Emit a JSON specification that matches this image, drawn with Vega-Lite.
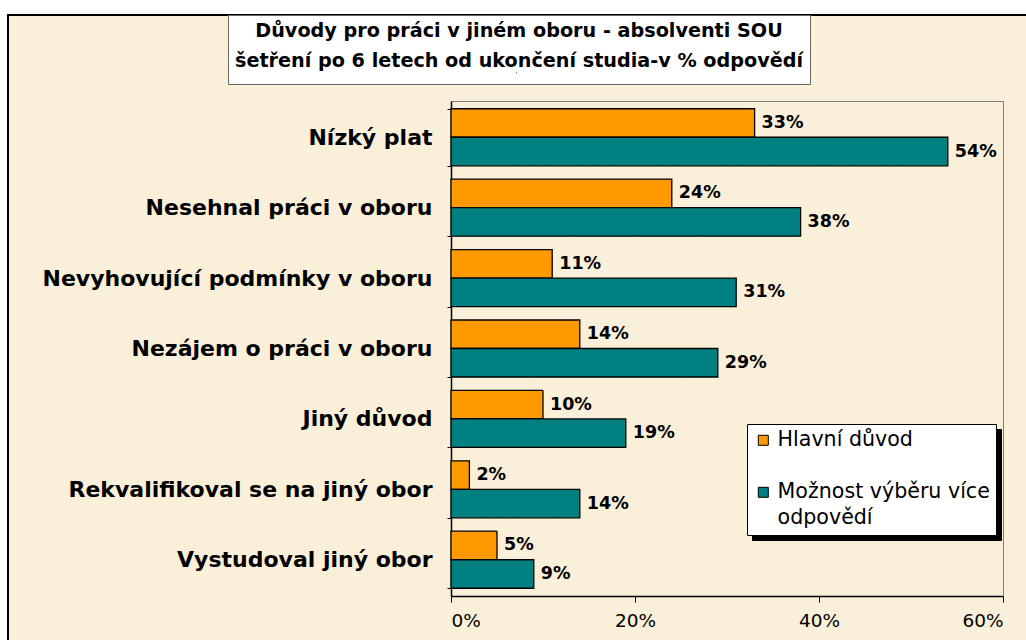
{
  "$schema": "https://vega.github.io/schema/vega-lite/v6.json",
  "width": 1030,
  "height": 637,
  "padding": {"left": 8, "top": 15, "right": -12, "bottom": -12},
  "autosize": {"type": "none"},
  "background": "white",
  "config": {
    "view": {"fill": "#FAEFD8", "stroke": "black", "strokeWidth": 2},
    "font": "DejaVu Sans"
  },
  "data": {
    "values": [
      {"cat": "Nízký plat", "series": "Hlavní důvod", "value": 0.33, "school": "SOU"},
      {"cat": "Nízký plat", "series": "Možnost výběru více odpovědí", "value": 0.54, "school": "SOU"},
      {"cat": "Nesehnal práci v oboru", "series": "Hlavní důvod", "value": 0.24, "school": "SOU"},
      {"cat": "Nesehnal práci v oboru", "series": "Možnost výběru více odpovědí", "value": 0.38, "school": "SOU"},
      {"cat": "Nevyhovující podmínky v oboru", "series": "Hlavní důvod", "value": 0.11, "school": "SOU"},
      {"cat": "Nevyhovující podmínky v oboru", "series": "Možnost výběru více odpovědí", "value": 0.31, "school": "SOU"},
      {"cat": "Nezájem o práci v oboru", "series": "Hlavní důvod", "value": 0.14, "school": "SOU"},
      {"cat": "Nezájem o práci v oboru", "series": "Možnost výběru více odpovědí", "value": 0.29, "school": "SOU"},
      {"cat": "Jiný důvod", "series": "Hlavní důvod", "value": 0.10, "school": "SOU"},
      {"cat": "Jiný důvod", "series": "Možnost výběru více odpovědí", "value": 0.19, "school": "SOU"},
      {"cat": "Rekvalifikoval se na jiný obor", "series": "Hlavní důvod", "value": 0.02, "school": "SOU"},
      {"cat": "Rekvalifikoval se na jiný obor", "series": "Možnost výběru více odpovědí", "value": 0.14, "school": "SOU"},
      {"cat": "Vystudoval jiný obor", "series": "Hlavní důvod", "value": 0.05, "school": "SOU"},
      {"cat": "Vystudoval jiný obor", "series": "Možnost výběru více odpovědí", "value": 0.09, "school": "SOU"}
    ]
  },
  "layer": [
    {
      "mark": {"type": "bar", "stroke": "black", "strokeWidth": 1.3},
      "encoding": {
        "y": {
          "field": "cat", "type": "nominal", "sort": null,
          "scale": {"range": [86, 581], "paddingInner": 0.19, "paddingOuter": 0.11},
          "axis": {
            "orient": "left", "offset": -443, "title": null,
            "domainColor": "black", "domainWidth": 1.5,
            "tickColor": "black", "tickSize": 4, "tickBand": "extent",
            "labelFont": "DejaVu Sans", "labelFontWeight": "bold", "labelFontSize": 22,
            "labelColor": "black", "labelPadding": 15, "labelLimit": 600
          }
        },
        "yOffset": {"field": "series", "type": "nominal", "scale": {"domain": ["Hlavní důvod", "Možnost výběru více odpovědí"]}},
        "x": {
          "field": "value", "type": "quantitative",
          "scale": {"domain": [0, 0.6], "range": [443, 995], "nice": false},
          "axis": {
            "orient": "bottom", "offset": -56, "title": null, "grid": false,
            "values": [0, 0.2, 0.4, 0.6], "format": ".0%",
            "domainColor": "black", "domainWidth": 1.5,
            "tickColor": "black", "tickSize": 6,
            "labelFont": "DejaVu Sans", "labelFontSize": 18.5, "labelColor": "black", "labelPadding": 9
          }
        },
        "color": {
          "field": "series", "type": "nominal",
          "scale": {"domain": ["Hlavní důvod", "Možnost výběru více odpovědí"], "range": ["#FF9900", "#008080"]},
          "legend": {
            "orient": "none", "legendX": 739, "legendY": 409, "title": null,
            "fillColor": "white", "strokeColor": "black", "padding": 6,
            "symbolType": "square", "symbolSize": 100, "symbolStrokeColor": "black", "symbolStrokeWidth": 1,
            "labelFont": "DejaVu Sans", "labelFontSize": 20.6, "labelColor": "black",
            "labelOffset": 4, "labelLimit": 400, "rowPadding": 31, "labelBaseline": "middle",
            "labelExpr": "datum.label == 'Hlavní důvod' ? datum.label : ['Možnost výběru více', 'odpovědí']",
            "encode": {"labels": {"update": {"lineHeight": {"value": 26}}}},
            "zindex": 3
          }
        },
        "strokeDash": {
          "field": "series", "type": "nominal",
          "scale": {"domain": ["Možnost výběru více odpovědí", "Hlavní důvod"], "range": [[1, 0], [1, 0]]},
          "legend": {
            "orient": "none", "legendX": 744, "legendY": 414, "title": null,
            "fillColor": "black", "strokeColor": "black", "padding": 6,
            "symbolType": "square", "symbolSize": 100, "symbolStrokeColor": "black", "symbolFillColor": "black", "symbolStrokeWidth": 1,
            "labelFont": "DejaVu Sans", "labelFontSize": 20.6, "labelColor": "black",
            "labelOffset": 4, "labelLimit": 400, "rowPadding": 31, "labelBaseline": "middle",
            "labelExpr": "datum.label == 'Hlavní důvod' ? datum.label : ['Možnost výběru více', 'odpovědí']",
            "encode": {"labels": {"update": {"lineHeight": {"value": 26}}}},
            "zindex": 2
          }
        }
      }
    },
    {
      "mark": {"type": "text", "align": "left", "baseline": "middle", "dx": 7, "font": "DejaVu Sans", "fontWeight": "bold", "fontSize": 17.5, "color": "black"},
      "encoding": {
        "y": {
          "field": "cat", "type": "nominal", "sort": null,
          "scale": {"range": [86, 581], "paddingInner": 0.19, "paddingOuter": 0.11},
          "axis": {"orient": "right", "offset": -35, "title": null, "labels": false, "ticks": false, "domainColor": "#808080", "domainWidth": 1}
        },
        "yOffset": {"field": "series", "type": "nominal", "scale": {"domain": ["Hlavní důvod", "Možnost výběru více odpovědí"]}},
        "x": {
          "field": "value", "type": "quantitative",
          "scale": {"domain": [0, 0.6], "range": [443, 995], "nice": false},
          "axis": {"orient": "top", "offset": -86, "title": null, "labels": false, "ticks": false, "grid": false, "domainColor": "#808080", "domainWidth": 1}
        },
        "text": {"field": "value", "type": "quantitative", "format": ".0%"},
        "opacity": {
          "field": "school", "type": "ordinal",
          "scale": {"domain": ["SOU"], "range": [1, 1]},
          "legend": {
            "orient": "none", "legendX": 220, "legendY": 0,
            "title": ["Důvody pro práci v jiném oboru - absolventi SOU", "šetření po 6 letech od ukončení studia-v % odpovědí"],
            "titleFont": "DejaVu Sans", "titleFontWeight": "bold", "titleFontSize": 19.2, "titleColor": "black",
            "titleAlign": "center", "titleAnchor": "middle", "titleLineHeight": 30, "titlePadding": 0, "titleLimit": 2000,
            "fillColor": "white", "strokeColor": "#666666", "padding": 7,
            "symbolOpacity": 0, "symbolSize": 1, "labelExpr": "''", "labelFontSize": 1,
            "zindex": 1
          }
        }
      }
    }
  ],
  "resolve": {"axis": {"x": "independent", "y": "independent"}}
}
